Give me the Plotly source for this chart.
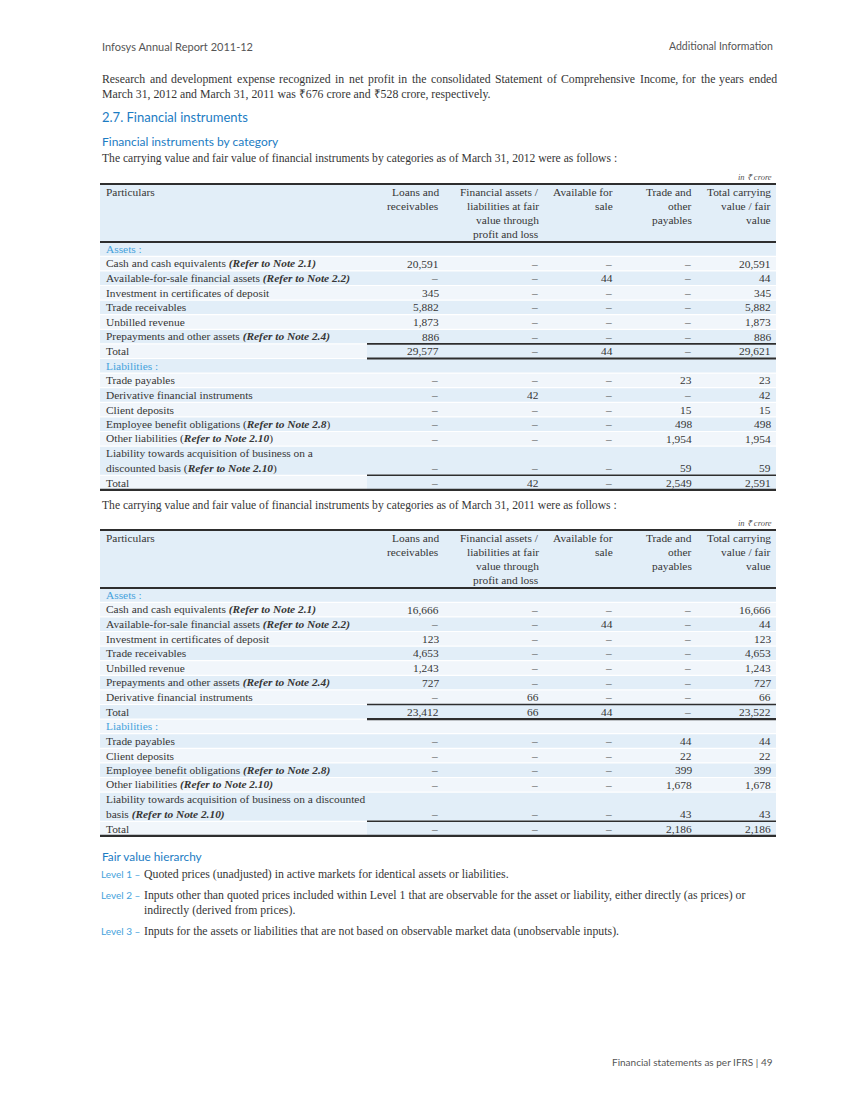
import plotly.graph_objects as go

# ---------------- data ----------------
col_headers = [
    ["Loans and", "receivables"],
    ["Financial assets /", "liabilities at fair", "value through", "profit and loss"],
    ["Available for", "sale"],
    ["Trade and", "other", "payables"],
    ["Total carrying", "value / fair", "value"],
]

NOTE = lambda n: "<b><i>(Refer to Note %s)</i></b>" % n
NOTE_P = lambda n: "(<b><i>Refer to Note %s</i></b>)" % n

# As of March 31, 2012
a12_labels = [
    "Cash and cash equivalents " + NOTE("2.1"),
    "Available-for-sale financial assets " + NOTE("2.2"),
    "Investment in certificates of deposit",
    "Trade receivables",
    "Unbilled revenue",
    "Prepayments and other assets " + NOTE("2.4"),
]
a12_loans = [20591, None, 345, 5882, 1873, 886]
a12_fvtpl = [None, None, None, None, None, None]
a12_afs = [None, 44, None, None, None, None]
a12_trade = [None, None, None, None, None, None]
a12_total = [20591, 44, 345, 5882, 1873, 886]
a12_sum = [29577, None, 44, None, 29621]

l12_labels = [
    "Trade payables",
    "Derivative financial instruments",
    "Client deposits",
    "Employee benefit obligations " + NOTE_P("2.8"),
    "Other liabilities " + NOTE_P("2.10"),
    ["Liability towards acquisition of business on a", "discounted basis " + NOTE_P("2.10")],
]
l12_loans = [None, None, None, None, None, None]
l12_fvtpl = [None, 42, None, None, None, None]
l12_afs = [None, None, None, None, None, None]
l12_trade = [23, None, 15, 498, 1954, 59]
l12_total = [23, 42, 15, 498, 1954, 59]
l12_sum = [None, 42, None, 2549, 2591]

# As of March 31, 2011
a11_labels = [
    "Cash and cash equivalents " + NOTE("2.1"),
    "Available-for-sale financial assets " + NOTE("2.2"),
    "Investment in certificates of deposit",
    "Trade receivables",
    "Unbilled revenue",
    "Prepayments and other assets " + NOTE("2.4"),
    "Derivative financial instruments",
]
a11_loans = [16666, None, 123, 4653, 1243, 727, None]
a11_fvtpl = [None, None, None, None, None, None, 66]
a11_afs = [None, 44, None, None, None, None, None]
a11_trade = [None, None, None, None, None, None, None]
a11_total = [16666, 44, 123, 4653, 1243, 727, 66]
a11_sum = [23412, 66, 44, None, 23522]

l11_labels = [
    "Trade payables",
    "Client deposits",
    "Employee benefit obligations " + NOTE("2.8"),
    "Other liabilities " + NOTE("2.10"),
    ["Liability towards acquisition of business on a discounted", "basis " + NOTE("2.10")],
]
l11_loans = [None, None, None, None, None]
l11_fvtpl = [None, None, None, None, None]
l11_afs = [None, None, None, None, None]
l11_trade = [44, 22, 399, 1678, 43]
l11_total = [44, 22, 399, 1678, 43]
l11_sum = [None, None, None, 2186, 2186]

# ---------------- style ----------------
W, H = 850, 1100
SERIF = "Liberation Serif, Times New Roman, serif"
SANS = "Lato, Open Sans, sans-serif"
TXT = "#363636"
GREY = "#555555"
BLUE = "#1c7cc3"
LBLUE = "#45a2dc"
ROW_DARK = "#e2eef8"
ROW_LIGHT = "#f1f6fb"
RULE = "#2e2e2e"
X_L, X_R = 100, 776
X_TOT = 367
COL_R = [441, 541, 615, 694, 773]
PITCH = 14.6
FS = 11.4      # table text
FB = 11.8      # body text

annotations = []
shapes = []


def text(x, y, s, size=FS, color=TXT, family=SERIF, anchor="left"):
    annotations.append(dict(x=x, y=y, xref="x", yref="y", text=s, showarrow=False,
                            xanchor=anchor, yanchor="middle",
                            font=dict(size=size, color=color, family=family)))


def hline(y, x0, x1, width=2, color=RULE):
    shapes.append(dict(type="line", xref="x", yref="y", x0=x0, x1=x1, y0=y, y1=y,
                       line=dict(color=color, width=width), layer="above"))


def rect(y0, y1, fill, x0=X_L, x1=X_R):
    shapes.append(dict(type="rect", xref="x", yref="y", x0=x0, x1=x1, y0=y0, y1=y1,
                       fillcolor=fill, line=dict(width=0), layer="below"))


# Times-compatible advance widths (per 1000 em) for simple justification
TW = {' ': 250, ',': 250, '.': 250, '-': 333, '(': 333, ')': 333, ':': 278}
TW.update({d: 500 for d in "0123456789"})
TW.update(dict(zip("abcdefghijklmnopqrstuvwxyz",
                   [444, 500, 444, 500, 444, 333, 500, 500, 278, 278, 500, 278, 778,
                    500, 500, 500, 500, 333, 389, 278, 500, 500, 722, 500, 500, 444])))
TW.update(dict(zip("ABCDEFGHIJKLMNOPQRSTUVWXYZ",
                   [722, 667, 667, 722, 611, 556, 722, 722, 333, 389, 722, 611, 889,
                    722, 722, 556, 722, 667, 556, 611, 722, 722, 944, 722, 722, 611])))


def justify(line, y, x0, x1, size):
    words = line.split(" ")
    widths = [sum(TW.get(c, 500) for c in w) * size / 1000.0 for w in words]
    gap = (x1 - x0 - sum(widths)) / (len(words) - 1)
    x = x0
    for w, wd in zip(words, widths):
        text(x, y, w, size=size)
        x += wd + gap


def fmt(v):
    return "–" if v is None else f"{v:,}"


def draw_table(top, a_labels, a_cols, a_sum, l_labels, l_cols, l_sum):
    text(X_R - 2, top - 7, "<i>in ₹ crore</i>", size=8.5, color=GREY, anchor="right")
    rect(top + 1, top + 57, ROW_DARK)
    hline(top, X_L, X_R, 2.2)
    hline(top + 58, X_L, X_R, 2.2)
    text(X_L + 4, top + 8, "Particulars")
    for c, lines in enumerate(col_headers):
        for k, s in enumerate(lines):
            text(COL_R[c], top + 8 + 14 * k, s, anchor="right")

    rows = [("section", "Assets :", None)]
    for i, lab in enumerate(a_labels):
        rows.append(("row", lab, [col[i] for col in a_cols]))
    rows.append(("total", "Total", a_sum))
    rows.append(("section", "Liabilities :", None))
    for i, lab in enumerate(l_labels):
        rows.append(("row", lab, [col[i] for col in l_cols]))
    rows.append(("final", "Total", l_sum))

    slot = top + 65 - PITCH / 2
    for r, (kind, lab, vals) in enumerate(rows):
        lines = lab if isinstance(lab, list) else [lab]
        h = PITCH * len(lines)
        rect(slot + 0.6, slot + h - 0.6, ROW_DARK if r % 2 == 0 else ROW_LIGHT)
        if kind in ("total", "final"):
            rect(slot + 0.6, slot + h - 0.6, ROW_DARK, x0=X_TOT)
        for k, s in enumerate(lines):
            text(X_L + 4, slot + PITCH * (k + 0.5), s,
                 color=LBLUE if kind == "section" else TXT)
        if vals is not None:
            yv = slot + h - PITCH / 2
            for c, v in enumerate(vals):
                if v is None:
                    text(COL_R[c] - 1, yv, "–", color=GREY, anchor="right")
                else:
                    text(COL_R[c], yv, fmt(v), anchor="right")
        if kind == "total":
            hline(slot, X_TOT, X_R, 1.6)
            hline(slot + h, X_TOT, X_R, 2.2)
        if kind == "final":
            hline(slot, X_TOT, X_R, 1.6)
            hline(slot + h, X_L, X_R, 2.2)
        slot += h


# ---------------- page text ----------------
text(X_L, 46, "Infosys Annual Report 2011-12", size=11, color="#555555", family=SANS)
text(775, 46, "Additional Information", size=10.5, color="#555555", family=SANS, anchor="right")

justify("Research and development expense recognized in net profit in the consolidated "
        "Statement of Comprehensive Income, for the years ended", 79, X_L, 775, FB)
text(X_L, 94, "March 31, 2012 and March 31, 2011 was ₹676 crore and ₹528 crore, respectively.", size=FB)

text(X_L, 117, "2.7. Financial instruments", size=13, color=BLUE, family=SANS)
text(X_L, 141, "Financial instruments by category", size=12, color=BLUE, family=SANS)
text(X_L, 158, "The carrying value and fair value of financial instruments by categories as of March 31, 2012 were as follows :", size=11.6)

draw_table(184, a12_labels, [a12_loans, a12_fvtpl, a12_afs, a12_trade, a12_total], a12_sum,
           l12_labels, [l12_loans, l12_fvtpl, l12_afs, l12_trade, l12_total], l12_sum)

text(X_L, 505, "The carrying value and fair value of financial instruments by categories as of March 31, 2011 were as follows :", size=11.6)

draw_table(530, a11_labels, [a11_loans, a11_fvtpl, a11_afs, a11_trade, a11_total], a11_sum,
           l11_labels, [l11_loans, l11_fvtpl, l11_afs, l11_trade, l11_total], l11_sum)

text(X_L, 856, "Fair value hierarchy", size=11.8, color=BLUE, family=SANS)
levels = [
    ("Level 1 –", ["Quoted prices (unadjusted) in active markets for identical assets or liabilities."]),
    ("Level 2 –", ["Inputs other than quoted prices included within Level 1 that are observable for the asset or liability, either directly (as prices) or",
                   "indirectly (derived from prices)."]),
    ("Level 3 –", ["Inputs for the assets or liabilities that are not based on observable market data (unobservable inputs)."]),
]
ly = 874
for name, lines in levels:
    text(X_L - 1, ly, name, size=10, color=LBLUE, family=SANS)
    for k, s in enumerate(lines):
        text(142, ly + 15 * k, s, size=FB)
    ly += 15 * len(lines) + 6

text(775, 1062, "Financial statements as per IFRS | 49", size=10, color="#555555", family=SANS, anchor="right")

fig = go.Figure()
fig.update_layout(
    width=W, height=H, margin=dict(l=0, r=0, t=0, b=0),
    paper_bgcolor="white", plot_bgcolor="white",
    xaxis=dict(range=[0, W], visible=False, fixedrange=True),
    yaxis=dict(range=[H, 0], visible=False, fixedrange=True),
    annotations=annotations, shapes=shapes, showlegend=False,
)
fig.write_html("out.html", config={"displayModeBar": False},
               post_script="document.body.style.margin='0';")
